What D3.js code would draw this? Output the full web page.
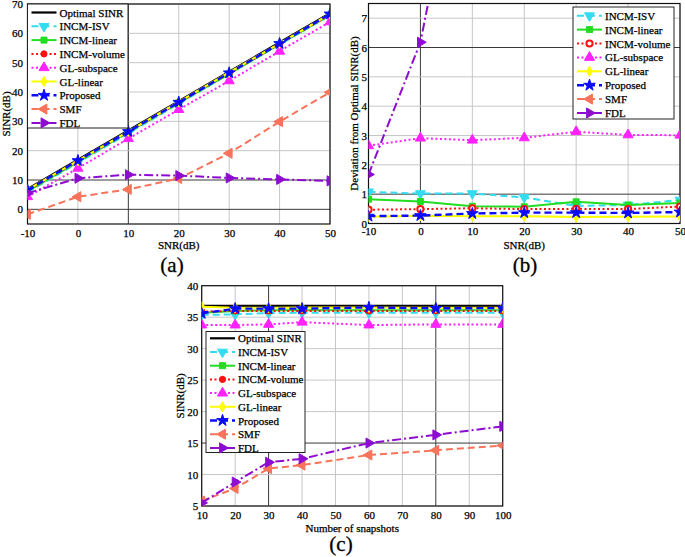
<!DOCTYPE html>
<html><head><meta charset="utf-8">
<script src="https://cdn.jsdelivr.net/npm/d3@7"></script>
<style>
body{margin:0;background:#fff}
svg{display:block}
text{font-family:"Liberation Serif","Times New Roman",Tinos,serif;fill:#000}
</style>
</head><body>
<svg id="chart" width="685" height="557"></svg>
<script>
// ---------------- DATA ----------------
const seriesNames = ["Optimal SINR","INCM-ISV","INCM-linear","INCM-volume","GL-subspace","GL-linear","Proposed","SMF","FDL"];
const snrLevels = [-10,0,10,20,30,40,50];
const snapshotCounts = [10,20,30,40,60,80,100];

// (a) output SINR vs input SNR
const optimalA  = [6.9,16.9,26.9,36.9,46.9,56.9,66.9];
const isvA      = [5.8,15.9,25.9,36.0,46.2,56.2,66.1];
const linearA   = [6.1,16.2,26.3,36.3,46.2,56.3,66.2];
const volumeA   = [6.4,16.4,26.4,36.4,46.4,56.4,66.3];
const subspaceA = [4.3,14.0,24.1,34.0,43.8,53.9,63.9];
const glLinearA = [6.7,16.6,26.6,36.6,46.7,56.6,66.6];
const proposedA = [6.6,16.6,26.5,36.5,46.5,56.5,66.6];
const smfA      = [-1.7,4.3,6.8,10.5,19.1,29.9,39.9];
const fdlA      = [5.5,10.6,11.8,11.5,10.7,10.2,9.7];

// (b) deviation from optimal SINR
const isvB      = [1.08,1.02,1.02,0.89,0.60,0.63,0.80];
const linearB   = [0.83,0.75,0.59,0.57,0.74,0.63,0.70];
const volumeB   = [0.47,0.49,0.52,0.49,0.50,0.49,0.58];
const subspaceB = [2.65,2.91,2.84,2.92,3.13,3.02,3.01];
const glLinearB = [0.23,0.26,0.25,0.25,0.22,0.23,0.24];
const proposedB = [0.25,0.27,0.34,0.37,0.37,0.36,0.39];
const smfB      = [8.6,12.6,20.1,26.4,27.8,27.0,27.0];
const fdlB      = [1.67,6.18,15.1,25.4,36.2,46.7,57.2];

// (c) output SINR vs number of snapshots
const optimalC  = [36.8,36.8,36.8,36.8,36.8,36.8,36.8];
const isvC      = [35.35,35.45,35.65,35.7,35.7,35.7,35.7];
const linearC   = [35.7,36.0,36.1,36.1,36.1,36.1,36.1];
const volumeC   = [35.9,36.0,36.0,36.0,36.0,36.0,36.0];
const subspaceC = [33.75,33.75,33.85,34.2,33.75,33.85,33.85];
const glLinearC = [36.65,36.5,36.5,36.55,36.55,36.5,36.5];
const proposedC = [35.6,36.35,36.35,36.35,36.55,36.4,36.45];
const smfC      = [5.8,7.8,10.95,11.5,13.1,13.85,14.6];
const fdlC      = [5.5,8.8,11.95,12.5,15.0,16.3,17.65];

const ticksA_x = [-10,0,10,20,30,40,50];
const ticksA_y = [0,10,20,30,40,50,60,70];
const ticksB_y = [0,1,2,3,4,5,6,7];
const ticksC_x = [10,20,30,40,50,60,70,80,90,100];
const ticksC_y = [5,10,15,20,25,30,35,40];

// ---------------- STYLES ----------------
const FONT = '"Liberation Serif","Times New Roman",Tinos,serif';
const FS = "11px";
const styles = {
  "Optimal SINR": {color:"#000000", dash:null,        width:2.2, marker:null},
  "INCM-ISV":     {color:"#33dcf0", dash:"7,4",       width:2,   marker:"tridown", size:42},
  "INCM-linear":  {color:"#22dd22", dash:null,        width:2,   marker:"square",  size:36},
  "INCM-volume":  {color:"#ff1010", dash:"2,2.5",     width:2,   marker:"circle",  size:30},
  "GL-subspace":  {color:"#ff22ff", dash:"2,2.5",     width:2,   marker:"triup",   size:44},
  "GL-linear":    {color:"#ffff00", dash:null,        width:2,   marker:"diamond", size:30},
  "Proposed":     {color:"#0a0aff", dash:"7,4",       width:2.4, marker:"star",    size:42},
  "SMF":          {color:"#f8735a", dash:"7,4",       width:2,   marker:"trileft", size:44},
  "FDL":          {color:"#8e0cd0", dash:"9,3,2,3",   width:2,   marker:"triright",size:44}
};

const svg = d3.select("#chart");
let clipId = 0;

function styleText(sel, size){
  sel.style("font-family", FONT).style("font-size", size || FS)
     .attr("fill", "#000").attr("stroke", "#000").attr("stroke-width", 0.25);
  return sel;
}

function markerPath(m, size){
  const map = {tridown:[d3.symbolTriangle,180], triup:[d3.symbolTriangle,0], trileft:[d3.symbolTriangle,-90],
    triright:[d3.symbolTriangle,90], square:[d3.symbolSquare,0], circle:[d3.symbolCircle,0],
    diamond:[d3.symbolDiamond,0], star:[d3.symbolStar,0]};
  const [t, rot] = map[m];
  return {d: d3.symbol().type(t).size(size)(), rot};
}

function drawPanel(p){
  const g = svg.append("g");
  const x = d3.scaleLinear().domain(p.xDomain).range([p.left, p.right]);
  const y = d3.scaleLinear().domain(p.yDomain).range([p.bottom, p.top]);

  // grid
  const grid = g.append("g");
  p.xTicks.forEach(t => grid.append("line")
    .attr("x1", x(t)).attr("x2", x(t)).attr("y1", p.top).attr("y2", p.bottom)
    .attr("stroke", p.darkX.includes(t) ? "#3a3a3a" : "#c6c6c6").attr("stroke-width", 1));
  p.yTicks.forEach(t => grid.append("line")
    .attr("y1", y(t)).attr("y2", y(t)).attr("x1", p.left).attr("x2", p.right)
    .attr("stroke", p.darkY.includes(t) ? "#3a3a3a" : "#c6c6c6").attr("stroke-width", 1));

  // box
  g.append("rect").attr("x", p.left).attr("y", p.top)
    .attr("width", p.right - p.left).attr("height", p.bottom - p.top)
    .attr("fill", "none").attr("stroke", "#111").attr("stroke-width", 1.2);

  // axes (labels only)
  const fmt = d => String(d);
  const xa = g.append("g").attr("transform", `translate(0,${p.bottom})`)
    .call(d3.axisBottom(x).tickValues(p.xTicks).tickSize(0).tickPadding(p.xPad).tickFormat(fmt));
  const ya = g.append("g").attr("transform", `translate(${p.left},0)`)
    .call(d3.axisLeft(y).tickValues(p.yTicks).tickSize(0).tickPadding(p.yPad).tickFormat(fmt));
  [xa, ya].forEach(a => {
    a.select(".domain").remove();
    a.attr("font-family", FONT).attr("font-size", 11);
    styleText(a.selectAll("text"));
  });

  // clip
  const cid = "clip" + (clipId++);
  g.append("clipPath").attr("id", cid).append("rect")
    .attr("x", p.left).attr("y", p.top).attr("width", p.right - p.left).attr("height", p.bottom - p.top);
  const plot = g.append("g").attr("clip-path", `url(#${cid})`);

  const line = d3.line().x((d,i) => x(p.xs[i])).y(d => y(d));
  p.series.forEach(s => {
    const st = styles[s.name];
    plot.append("path").attr("d", line(s.values)).attr("fill", "none")
      .attr("stroke", st.color).attr("stroke-width", st.width)
      .attr("stroke-dasharray", st.dash).attr("stroke-linejoin", "round");
    if (st.marker){
      const mp = markerPath(st.marker, st.size);
      s.values.forEach((v,i) => {
        const hollow = p.hollowCircle && st.marker === "circle";
        plot.append("path").attr("d", mp.d)
          .attr("transform", `translate(${x(p.xs[i])},${y(v)}) rotate(${mp.rot})`)
          .attr("fill", hollow ? "#fff" : st.color)
          .attr("stroke", st.color).attr("stroke-width", hollow ? 2 : 1);
      });
    }
  });

  // axis titles
  styleText(g.append("text").attr("x", (p.left + p.right)/2).attr("y", p.xLabelY)
    .attr("text-anchor", "middle").text(p.xLabel));
  styleText(g.append("text").attr("transform", `translate(${p.yLabelX},${(p.top + p.bottom)/2}) rotate(-90)`)
    .attr("text-anchor", "middle").text(p.yLabel));
  styleText(g.append("text").attr("x", p.tagX).attr("y", p.tagY).attr("text-anchor", "middle")
    .text(p.tag), "21px").attr("stroke-width", 0.3);

  // legend
  const L = p.legend;
  const lg = g.append("g");
  lg.append("rect").attr("x", L.x).attr("y", L.y).attr("width", L.w).attr("height", L.h)
    .attr("fill", "#fff").attr("stroke", "#222").attr("stroke-width", 1);
  p.series.forEach((s, i) => {
    const st = styles[s.name];
    const cy = L.y + L.first + i * L.row;
    lg.append("line").attr("x1", L.x + 4).attr("x2", L.x + 29).attr("y1", cy).attr("y2", cy)
      .attr("stroke", st.color).attr("stroke-width", st.width).attr("stroke-dasharray", st.dash);
    if (st.marker){
      const mp = markerPath(st.marker, st.size);
      const hollow = p.hollowCircle && st.marker === "circle";
      lg.append("path").attr("d", mp.d)
        .attr("transform", `translate(${L.x + 16.5},${cy}) rotate(${mp.rot})`)
        .attr("fill", hollow ? "#fff" : st.color).attr("stroke", st.color).attr("stroke-width", hollow ? 2 : 1);
    }
    styleText(lg.append("text").attr("x", L.x + 32).attr("y", cy + 4).text(s.name));
  });
}

const mk = (names, arrs) => names.map((n, i) => ({name: n, values: arrs[i]}));

drawPanel({
  left:27.5, right:330, top:4, bottom:224,
  xDomain:[-10,50], yDomain:[-5,70], xTicks:ticksA_x, yTicks:ticksA_y, xs:snrLevels,
  xPad:5, yPad:4.5, darkX:[10], darkY:[0,10],
  series: mk(seriesNames, [optimalA,isvA,linearA,volumeA,subspaceA,glLinearA,proposedA,smfA,fdlA]),
  xLabel:"SNR(dB)", xLabelY:249, yLabel:"SINR(dB)", yLabelX:10,
  tag:"(a)", tagX:172, tagY:272,
  legend:{x:27.5, y:4, w:100.5, h:124, first:8.5, row:13.8}
});

drawPanel({
  left:368.5, right:680, top:3.5, bottom:223.5,
  xDomain:[-10,50], yDomain:[0,7.5], xTicks:ticksA_x, yTicks:ticksB_y, xs:snrLevels,
  xPad:3.5, yPad:1.5, darkX:[0], darkY:[1,6], hollowCircle:true,
  series: mk(seriesNames.slice(1), [isvB,linearB,volumeB,subspaceB,glLinearB,proposedB,smfB,fdlB]),
  xLabel:"SNR(dB)", xLabelY:249, yLabel:"Deviation from Optimal SINR(dB)", yLabelX:358,
  tag:"(b)", tagX:525, tagY:272,
  legend:{x:573, y:7, w:101, h:112, first:8.7, row:13.9}
});

drawPanel({
  left:201.7, right:502.7, top:285.7, bottom:506,
  xDomain:[10,100], yDomain:[5,40], xTicks:ticksC_x, yTicks:ticksC_y, xs:snapshotCounts,
  xPad:5.5, yPad:3.5, darkX:[30,80], darkY:[15],
  series: mk(seriesNames, [optimalC,isvC,linearC,volumeC,subspaceC,glLinearC,proposedC,smfC,fdlC]),
  xLabel:"Number of snapshots", xLabelY:532, yLabel:"SINR(dB)", yLabelX:184,
  tag:"(c)", tagX:341, tagY:551,
  legend:{x:206, y:331.5, w:99, h:121, first:6.8, row:13.7}
});
</script>
</body></html>
